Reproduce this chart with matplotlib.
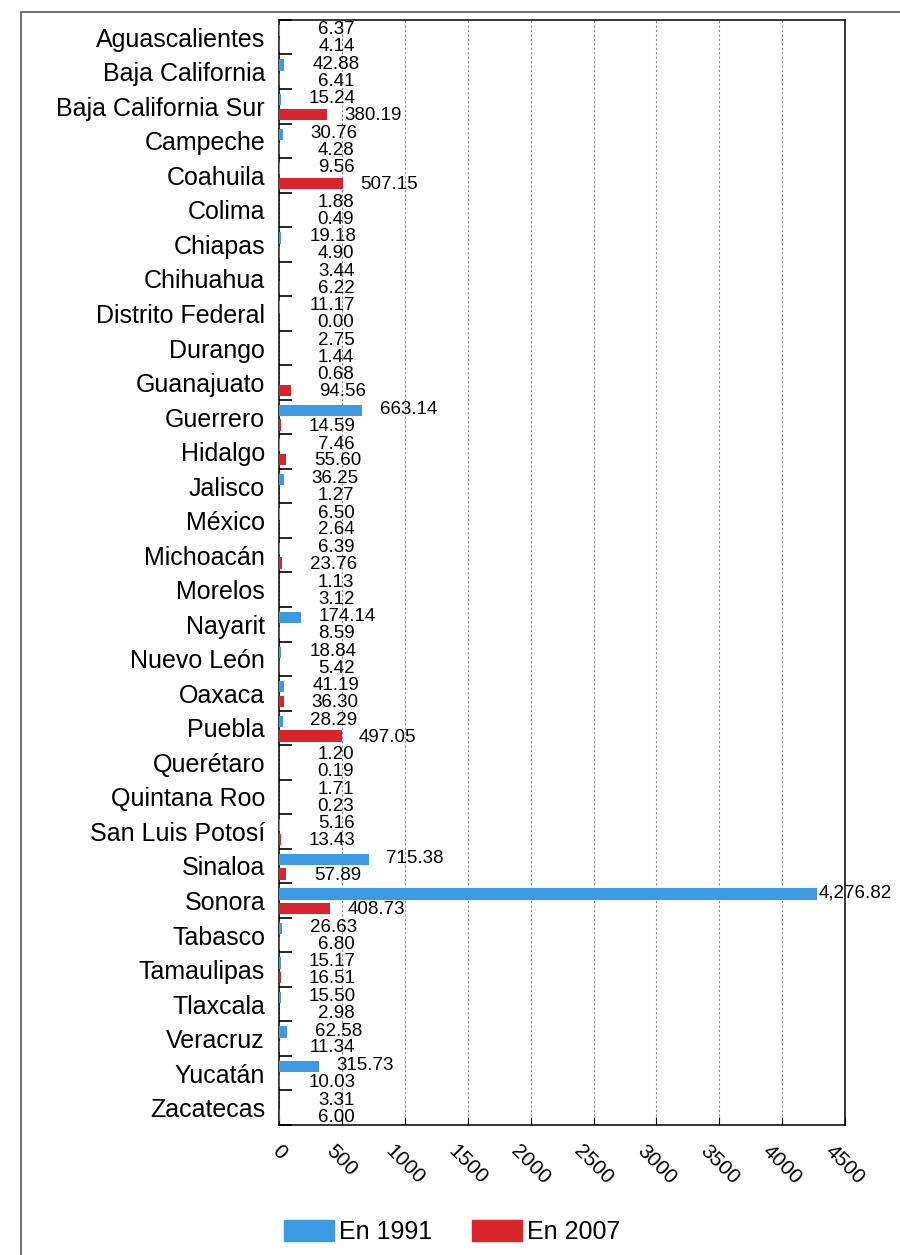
import matplotlib
matplotlib.use('Agg')
import matplotlib.pyplot as plt
import numpy as np
from matplotlib.patches import Rectangle, Patch

plt.rcParams['font.family'] = ['Liberation Sans', 'DejaVu Sans']

# data
estados = ['Aguascalientes', 'Baja California', 'Baja California Sur', 'Campeche',
           'Coahuila', 'Colima', 'Chiapas', 'Chihuahua', 'Distrito Federal',
           'Durango', 'Guanajuato', 'Guerrero', 'Hidalgo', 'Jalisco', 'México',
           'Michoacán', 'Morelos', 'Nayarit', 'Nuevo León', 'Oaxaca', 'Puebla',
           'Querétaro', 'Quintana Roo', 'San Luis Potosí', 'Sinaloa', 'Sonora',
           'Tabasco', 'Tamaulipas', 'Tlaxcala', 'Veracruz', 'Yucatán', 'Zacatecas']
v1991 = [6.37, 42.88, 15.24, 30.76, 9.56, 1.88, 19.18, 3.44, 11.17, 2.75, 0.68,
         663.14, 7.46, 36.25, 6.50, 6.39, 1.13, 174.14, 18.84, 41.19, 28.29, 1.20,
         1.71, 5.16, 715.38, 4276.82, 26.63, 15.17, 15.50, 62.58, 315.73, 3.31]
v2007 = [4.14, 6.41, 380.19, 4.28, 507.15, 0.49, 4.90, 6.22, 0.00, 1.44, 94.56,
         14.59, 55.60, 1.27, 2.64, 23.76, 3.12, 8.59, 5.42, 36.30, 497.05, 0.19,
         0.23, 13.43, 57.89, 408.73, 6.80, 16.51, 2.98, 11.34, 10.03, 6.00]
x_ticks = [0, 500, 1000, 1500, 2000, 2500, 3000, 3500, 4000, 4500]

azul = '#3b9ae1'
rojo = '#d8242a'

fig = plt.figure(figsize=(9, 12.55), dpi=100)
ax = fig.add_axes([0.31, 0.1036, 0.629, 0.8805])

y = np.arange(len(estados))
ax.barh(y - 0.19, v1991, height=0.33, color=azul, zorder=3)
ax.barh(y + 0.23, v2007, height=0.33, color=rojo, zorder=3)

for i in range(len(estados)):
    ax.annotate('{:,.2f}'.format(v1991[i]), (v1991[i], y[i] - 0.22),
                xytext=(75, 0), textcoords='offset pixels', ha='right',
                va='center', fontsize=13.5, zorder=4)
    ax.annotate('{:,.2f}'.format(v2007[i]), (v2007[i], y[i] + 0.27),
                xytext=(75, 0), textcoords='offset pixels', ha='right',
                va='center', fontsize=13.5, zorder=4)

ax.set_xlim(0, 4500)
ax.set_ylim(len(estados) - 0.5, -0.5)

# category labels at centers, tick marks at boundaries
ax.set_yticks(np.arange(len(estados) + 1) - 0.5)
ax.set_yticklabels([])
ax.set_yticks(y, minor=True)
ax.set_yticklabels(estados, minor=True, fontsize=18)
ax.tick_params(axis='y', which='major', direction='in', length=9.5, width=1.2)
ax.tick_params(axis='y', which='minor', length=0, pad=10)

ax.set_xticks(x_ticks)
ax.set_xticklabels([str(t) for t in x_ticks], rotation=-45, ha='center',
                   va='top', fontsize=15)
ax.tick_params(axis='x', direction='in', length=6, pad=12)

ax.grid(axis='x', linestyle=(0, (2, 2)), color='#888888', linewidth=0.8, zorder=0)
for s in ax.spines.values():
    s.set_linewidth(1.1)

# page frame
fig.patches.append(Rectangle((0.023, -0.02), 1.0, 1.0104, transform=fig.transFigure,
                             fill=False, edgecolor='#555555', linewidth=1.2))

handles = [Patch(color=azul, label='En 1991'), Patch(color=rojo, label='En 2007')]
fig.legend(handles=handles, loc='center', bbox_to_anchor=(0.502, 0.018), ncol=2,
           frameon=False, fontsize=18, handlelength=2.0, handleheight=0.9,
           columnspacing=1.6, handletextpad=0.2)

plt.savefig('out.png', dpi=100)
